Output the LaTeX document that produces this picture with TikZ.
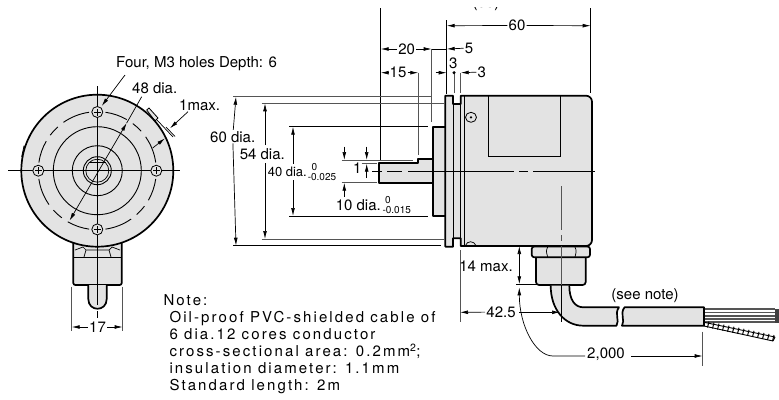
\documentclass[tikz,border=0pt]{standalone}
\usepackage{fontspec}
\setmainfont{TeX Gyre Heros}
\newfontfamily\notefont[LetterSpace=14]{TeX Gyre Heros}
\usetikzlibrary{shapes,arrows.meta}
\definecolor{partgray}{HTML}{E3E3E3}
\definecolor{leadgray}{HTML}{555555}
\tikzstyle{label} = [font=\fontsize{15}{17}\selectfont, inner sep=1pt]
\tikzstyle{small} = [font=\fontsize{10}{11}\selectfont, inner sep=0pt]
\tikzstyle{notes} = [font=\notefont\fontsize{15}{17}\selectfont, inner sep=0pt, align=left, anchor=north west]
\tikzstyle{part} = [draw, line width=1.7pt, fill=partgray, line join=round]
\tikzstyle{edge} = [draw, line width=.7pt]
\tikzstyle{extline} = [draw, line width=.8pt, leadgray]
\tikzstyle{center} = [draw, line width=.6pt]
\tikzstyle{dim} = [draw, line width=.7pt, -{Latex[length=8pt,width=3.8pt]}]
\tikzstyle{dimboth} = [draw, line width=.7pt, {Latex[length=8pt,width=3.8pt]}-{Latex[length=8pt,width=3.8pt]}]

\begin{document}
\begin{tikzpicture}[x=1pt, y=-1pt]
    \useasboundingbox (0,0) rectangle (779,399);
    % Front view, connector first
    \path [part] (73.3,243) -- (121.7,243) -- (121.7,281) [rounded corners=2pt] -- (121.7,285) -- (73.3,285) [sharp corners] -- cycle;
    \path [part] (88.3,285) -- (88.3,299) .. controls (88.3,312) and (106.7,312) .. (106.7,299) -- (106.7,285);
    \path [edge, line width=1pt] (73.3,257.7) -- (121.7,257.7);
    \path [edge] (75,250) -- (83,247) -- (86,250) -- (84,257) (86,250) -- (109,250) (109,250) -- (112,247) -- (120,250) (109,250) -- (111,257);
    \path [part, line width=.8pt] (21.7,156.7) -- (24,146) -- (27,147) -- (24,158) -- cycle;
    \path [part, line width=.8pt] (146.7,110) -- (149,108) -- (158,118) -- (155,121) -- cycle;
    \path [part] (97.3,170.7) circle [radius=76];
    \foreach \q in {0,90,180,270} {
        \path [edge, line width=.9pt] (97.3,170.7) ++(\q+8:59) arc [start angle=\q+8, end angle=\q+30, radius=59];
        \path [edge, line width=.9pt] (97.3,170.7) ++(\q+37:59) arc [start angle=\q+37, end angle=\q+48, radius=59];
        \path [edge, line width=.9pt] (97.3,170.7) ++(\q+55:59) arc [start angle=\q+55, end angle=\q+82, radius=59];
    }
    \path [edge, line width=.9pt] (97.3,170.7) circle [radius=44];
    \path [edge, line width=.9pt] (97.3,170.7) circle [radius=25];
    \path [edge, line width=.9pt] (97.3,170.7) circle [radius=14];
    \path [edge] (97.3,170.7) circle [radius=11.5];
    \path [edge] (89,162) -- (105.5,162);
    % Centre lines of the front view
    \path [center] (8,170.7) -- (180,170.7);
    \path [center] (97.3,86) -- (97.3,305);
    \path [center] (97.3,311) -- (97.3,318);
    \foreach \hx/\hy in {38.3/170.7, 156.3/170.7, 97.3/112, 97.3/229.4} {
        \node [circle, draw, line width=.8pt, fill=partgray, minimum size=11pt, inner sep=0pt] at (\hx,\hy) {};
        \path [edge, line width=.6pt] (\hx-3.5,\hy) -- (\hx+3.5,\hy) (\hx,\hy-3.5) -- (\hx,\hy+3.5);
    }
    % Front view labels
    \node [label, anchor=west] (holes) at (115,64) {Four, M3 holes Depth: 6};
    \node [label, anchor=west] (pitch) at (131,88) {48 dia.};
    \node [label, anchor=west] (bump) at (178,105) {1max.};
    \coordinate (holetip) at (101.7,106);
    \coordinate (pitcha) at (126.7,123);
    \coordinate (pitchb) at (69.5,220.7);
    \coordinate (bumptip) at (170,128.3);
    \coordinate (bumpin) at (165,138.3);
    \path [dim] (125,75) -- (holetip);
    \path [dimboth] (pitcha) -- (pitchb);
    \path [edge] (pitcha) -- (141.7,96.7);
    \path [dim] (188,111.7) -- (bumptip);
    \path [dim] (152.7,148) -- (bumpin);
    \path [edge] (157,120) -- (173,137);
    \path [edge] (166,127) -- (175,136.5);
    \path [extline] (71.7,286.7) -- (71.7,331);
    \path [extline] (122.7,286.7) -- (122.7,331);
    \node [label] (width) at (97.5,327) {17};
    \coordinate (widtha) at (71.7,327);
    \coordinate (widthb) at (122.7,327);
    \path [dim] (width) -- (widtha);
    \path [dim] (width) -- (widthb);
    % Side view
    \path [part] (379.3,162.7) -- (418,162.7) -- (418,159) -- (433,159) -- (433,182.7) -- (379.3,182.7) -- cycle;
    \path [part] (432.7,126.7) -- (445.5,126.7) -- (445.5,215.7) -- (432.7,215.7) -- cycle;
    \path [part] (445.3,95.7) -- (453,95.7) -- (453,104) -- (460.7,104) -- (460.7,95.7) [rounded corners=6pt] -- (592,95.7) -- (592,246) [sharp corners] -- (460.7,246) -- (460.7,238.3) -- (453,238.3) -- (453,246.7) -- (445.3,246.7) -- cycle;
    \path [edge, line width=.8pt] (453,104) -- (453,238.3);
    \path [edge, line width=.8pt] (460.7,104) -- (460.7,238.3);
    \path [edge, line width=.8pt] (464.3,96) -- (464.3,245);
    \path [edge, line width=.8pt] (488.3,96) -- (488.3,156.7) -- (560.7,156.7) -- (560.7,96);
    \node [ellipse, draw, line width=.8pt, minimum width=11pt, minimum height=10pt, inner sep=0pt] (screw) at (471,117.3) {};
    \node [circle, fill=black, inner sep=.9pt] at (screw) {};
    \path [edge] (465.5,245.5) .. controls (467,240.5) and (474,240.5) .. (476,245.5);
    % Nut, gland and cable
    \path [part] (536,257) -- (585.7,257) [rounded corners=3pt] -- (585.7,285) -- (536,285) [sharp corners] -- cycle;
    \path [part, rounded corners=2.5pt] (531.7,246.5) -- (590,246.5) -- (590,257.3) -- (531.7,257.3) -- cycle;
    \path [edge] (547.7,247) .. controls (546,251) .. (547.7,257) (575,247) .. controls (576.5,251) .. (575,257);
    \path [part] (550.7,285.5) .. controls (550.7,310) and (565,325.7) .. (583.3,325.7) -- (616.5,325.7) .. controls (620,320) and (614,314) .. (619,307.3) -- (583.3,307.3) .. controls (575,307.3) and (569.3,300) .. (569.3,285.5);
    \path [part] (622,325.7) .. controls (625.5,320) and (619.5,314) .. (624.5,307.3) -- (704,307.3) -- (704,325.7) -- cycle;
    \foreach \wy in {309,312.5,316,319,322} {
        \path [draw, line width=1.1pt, leadgray] (705,\wy) -- (775,\wy);
    }
    \path [fill=black!75] (775,308.5) rectangle (779,322.5);
    \path [edge, line width=.9pt] (705,322.5) -- (775,337) (704,326) -- (773,341);
    \foreach \t in {0,...,13} {
        \path [edge, line width=1pt] (709+5*\t,321.5+1.04*\t) -- (707.5+5*\t,327.5+1.04*\t);
    }
    \path [edge, line width=1pt] (775,337) -- (773,341);
    % Centre lines of the side view
    \path [center] (372,171) -- (382,171) (387,171) -- (402,171) (408,171) -- (514,171) (519,171) -- (528,171) (533,171) -- (595,171);
    \path [draw, line width=1pt, leadgray] (561,186) -- (561,229.5) (561,235) -- (561,241) (561,246) -- (561,285);
    \path [edge] (561,285) -- (561,322);
    % Extension lines of the side view
    \path [extline, black] (380.7,8) -- (380.7,160);
    \path [extline] (418.3,72.7) -- (418.3,155);
    \path [extline] (431.7,49) -- (431.7,122);
    \path [extline, black] (446.7,20) -- (446.7,94);
    \path [extline] (454,72.7) -- (454,93);
    \path [extline] (460.7,72.7) -- (460.7,93);
    \path [extline, black] (590.7,8) -- (590.7,93);
    \path [extline] (233,96.7) -- (431.7,96.7);
    \path [extline, black] (233,245.7) -- (440.7,245.7);
    \path [extline] (261.7,103.3) -- (445,103.3);
    \path [extline] (261.7,239) -- (445,239);
    \path [extline, black] (289.3,126.7) -- (428,126.7);
    \path [extline, black] (289.3,216) -- (428,216);
    \path [extline] (341.7,160) -- (413,160);
    \path [extline] (341.7,182.7) -- (376.7,182.7);
    \path [extline] (361.7,163.7) -- (376.7,163.7);
    \path [extline] (460,250) -- (460,322);
    \path [extline, black] (516,284.3) -- (536.7,284.3);
    \path [extline] (702.7,331.7) -- (702.7,366);
    % Dimension labels of the side view
    \node [label] (length) at (517,25.5) {60};
    \node [label] (longer) at (486,3.5) {(55)};
    \node [label] (shaft) at (406.7,49) {20};
    \node [label] (flat) at (398,72.7) {15};
    \node [label] (boss) at (469,48) {5};
    \node [label] (ringa) at (453.3,63.3) {3};
    \node [label] (ringb) at (481.7,72) {3};
    \node [label, fill=white] (outer) at (232.7,136.7) {60 dia.};
    \node [label, fill=white] (mount) at (262.3,154) {54 dia.};
    \node [label, fill=white, font=\fontsize{13}{15}\selectfont] (flange) at (287.3,172) {40 dia.};
    \node [small] (flangeup) at (314.5,166.7) {0};
    \node [small] (flangelo) at (322,176.7) {-0.025};
    \node [label] (stem) at (358.3,205) {10 dia.};
    \node [small] (stemup) at (388,200) {0};
    \node [small] (stemlo) at (396.7,210) {-0.015};
    \node [label] (keyway) at (357.3,168.3) {1};
    \node [label] (gland) at (486,266) {14 max.};
    \node [label] (axis) at (501,312) {42.5};
    \node [label] (seenote) at (645,295.7) {(see note)};
    \node [label] (cable) at (606,354) {2,000};
    % Dimension lines of the side view
    \coordinate (lengtha) at (446.7,25.7);
    \coordinate (lengthb) at (590.7,25.7);
    \path [dim] (length) -- (lengtha);
    \path [dim] (length) -- (lengthb);
    \coordinate (shafta) at (380.7,49);
    \coordinate (shaftb) at (431.7,49);
    \path [dim] (shaft) -- (shafta);
    \path [dim] (shaft) -- (shaftb);
    \coordinate (bossb) at (446.7,49);
    \path [dim] (boss) -- (bossb);
    \path [edge] (431.7,49) -- (446.7,49);
    \coordinate (flata) at (380.7,72.7);
    \coordinate (flatb) at (418.3,72.7);
    \path [dim] (flat) -- (flata);
    \path [dim] (flat) -- (flatb);
    \coordinate (ringc) at (446.7,72.7);
    \coordinate (ringd) at (460.7,72.7);
    \path [dim] (435.7,72.7) -- (ringc);
    \path [dim] (ringb) -- (ringd);
    \node [circle, fill=black, inner sep=1.2pt] (ringdot) at (454,72.7) {};
    \path [dim] (outer) -- (236,96.7);
    \path [dim] (outer) -- (236,245.7);
    \path [dim] (265,145) -- (265,103.3);
    \path [dim] (265,163) -- (265,239);
    \path [dim] (293,164) -- (293,126.7);
    \path [dim] (293,180) -- (293,216);
    \path [dim] (344.3,146.7) -- (344.3,160);
    \path [dim] (344.3,196.7) -- (344.3,182.7);
    \path [dim] (366.7,146.7) -- (366.7,160);
    \path [dim] (366.7,178) -- (366.7,163.7);
    \coordinate (glandtop) at (519.3,246);
    \coordinate (glandlow) at (519.3,284.3);
    \path [dimboth] (glandtop) -- (glandlow);
    \coordinate (axisa) at (460,312.3);
    \coordinate (axisb) at (560,312.3);
    \path [dim] (axis) -- (axisa);
    \path [dim] (519.3,312.3) -- (axisb);
    \coordinate (cablea) at (519.3,287.3);
    \coordinate (cableb) at (702.7,356);
    \path [dim] (585,356) -- (553,356) .. controls (535,356) and (519.3,325) .. (cablea);
    \path [dim] (631,356) -- (cableb);
    % Note
    \node [notes] (notehead) at (163.3,294.5) {Note:};
    \node [notes] (notebody) at (169.3,311.5) {Oil-proof PVC-shielded cable of\\6 dia.12 cores conductor\\cross-sectional area: 0.2mm\textsuperscript{2};\\insulation diameter: 1.1mm\\Standard length: 2m};
    % Top edge of the sheet
    \path [fill=white] (0,0) rectangle (779,7);
\end{tikzpicture}
\end{document}
